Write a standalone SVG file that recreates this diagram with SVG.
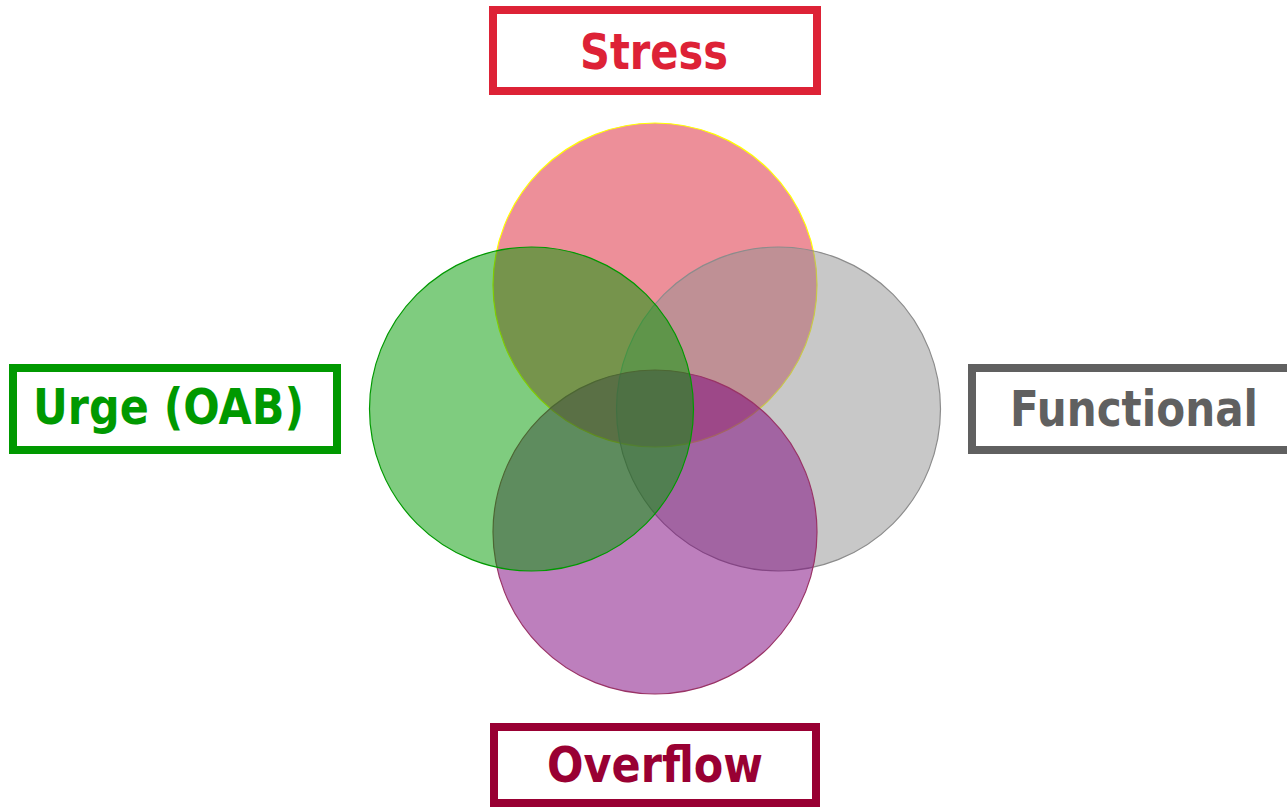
<svg xmlns="http://www.w3.org/2000/svg" width="1287" height="807" viewBox="0 0 1287 807">
<style>
.box{fill:#fff;stroke-width:8}
.lbl{font-family:"DejaVu Sans",Verdana,sans-serif;font-weight:bold;font-size:49px}
.c{fill-opacity:0.5;stroke-width:1.2}
</style>
<rect width="1287" height="807" fill="#fff"/>
<g id="circles">
<circle id="c-stress" class="c" cx="655" cy="285" r="162" fill="#DC2033" stroke="#FFFF00"/>
<circle id="c-functional" class="c" cx="778.5" cy="409" r="162" fill="#919191" stroke="#8C8C8C"/>
<circle id="c-overflow" class="c" cx="655" cy="532" r="162" fill="#7B007B" stroke="#993366"/>
<circle id="c-urge" class="c" cx="531.5" cy="409" r="162" fill="#009900" stroke="#009900"/>
</g>
<g id="stress">
<rect class="box" x="493" y="10" width="324" height="81" stroke="#DD2236"/>
<text class="lbl" x="580" y="69" textLength="148" lengthAdjust="spacingAndGlyphs" fill="#DD2236">Stress</text>
</g>
<g id="urge">
<rect class="box" x="13" y="368" width="324" height="82" stroke="#009900"/>
<text class="lbl" x="33" y="424" textLength="271" lengthAdjust="spacingAndGlyphs" fill="#009900">Urge (OAB)</text>
</g>
<g id="functional">
<rect class="box" x="972" y="368" width="330" height="82" stroke="#606060"/>
<text class="lbl" x="1010" y="426" textLength="248" lengthAdjust="spacingAndGlyphs" fill="#606060">Functional</text>
</g>
<g id="overflow">
<rect class="box" x="494" y="727" width="322" height="76" stroke="#990033"/>
<text class="lbl" x="547" y="782" textLength="216" lengthAdjust="spacingAndGlyphs" fill="#990033">Overflow</text>
</g>
</svg>
